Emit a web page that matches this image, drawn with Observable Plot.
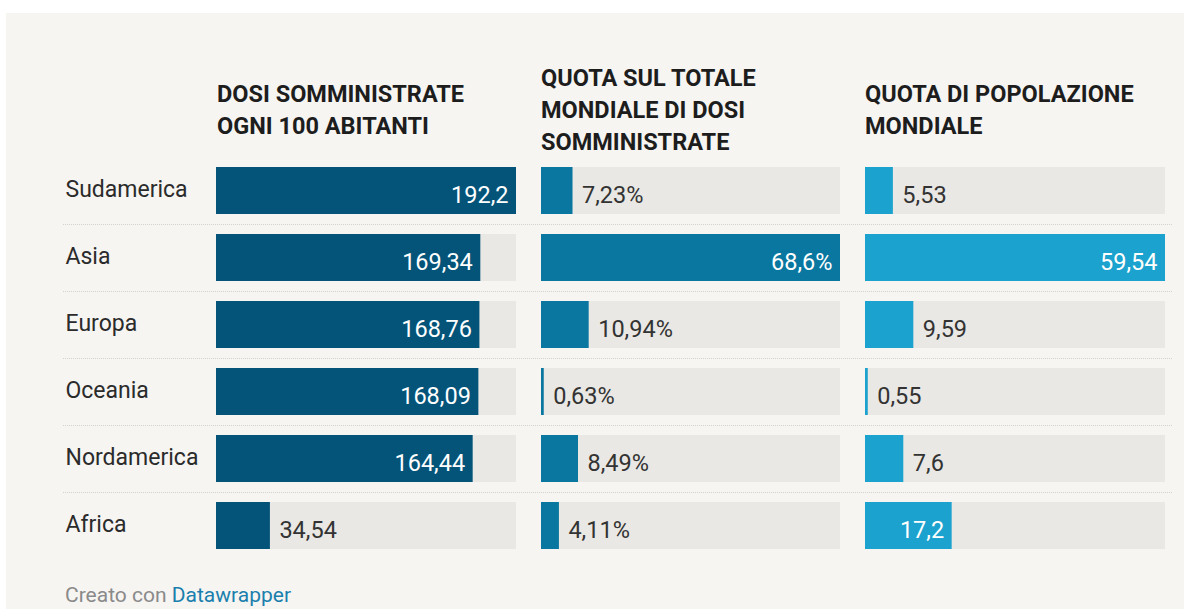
<!DOCTYPE html>
<html>
<head>
<meta charset="utf-8">
<script src="https://cdn.jsdelivr.net/npm/d3@7"></script>
<script src="https://cdn.jsdelivr.net/npm/@observablehq/plot@0.6"></script>
<style>
  html, body { margin: 0; padding: 0; background: #ffffff; width: 1184px; height: 609px; overflow: hidden; font-family: Roboto, sans-serif; }
  #panel { position: absolute; left: 6px; top: 13px; width: 1178px; height: 620px; background: #f6f5f2; }
  .hdr { position: absolute; top: 62px; height: 96px; display: flex; align-items: center; font-family: Roboto, sans-serif; font-weight: 700; font-size: 23.5px; line-height: 32px; color: #1d1d1d; width: 295px; }
  .plot { position: absolute; top: 146px; }
  .sep { position: absolute; height: 0; border-top: 1px dotted #d3d2ce; }
  #footer { position: absolute; left: 65px; top: 583px; font-size: 21px; line-height: 24px; color: #8a8a8a; }
  #footer span { color: #1b7fad; }
</style>
</head>
<body>
<div id="panel"></div>
<div id="root"></div>
<script>
// ---- data ----
const regions = ["Sudamerica", "Asia", "Europa", "Oceania", "Nordamerica", "Africa"];
const dosiPer100 = [192.2, 169.34, 168.76, 168.09, 164.44, 34.54];
const quotaDosi = [7.23, 68.6, 10.94, 0.63, 8.49, 4.11];
const quotaPop = [5.53, 59.54, 9.59, 0.55, 7.6, 17.2];
const titles = [
  "DOSI SOMMINISTRATE OGNI 100 ABITANTI",
  "QUOTA SUL TOTALE MONDIALE DI DOSI SOMMINISTRATE",
  "QUOTA DI POPOLAZIONE MONDIALE"
];
const suffixes = ["", "%", ""];
const colors = ["#04547a", "#0977a0", "#1ba2ce"];

const columns = [dosiPer100, quotaDosi, quotaPop];
const root = document.getElementById("root");

// layout of the three panels (page pixels)
const layout = [
  {left: 6, marginLeft: 210, barWidth: 300, labels: true},
  {left: 541, marginLeft: 0, barWidth: 299, labels: false},
  {left: 865, marginLeft: 0, barWidth: 300, labels: false}
];
const titleLeft = [217, 541, 865];

const fmt = (v, s) => String(v).replace(".", ",") + s;
const valueFont = 23.5;
const charW = valueFont * 0.55;

let firstPlot = null;
columns.forEach((vals, i) => {
  const L = layout[i];
  const max = d3.max(vals);
  const data = regions.map((r, j) => {
    const label = fmt(vals[j], suffixes[i]);
    const px = vals[j] / max * L.barWidth;
    return {region: r, value: vals[j], max, label, inside: px > label.length * charW + 16};
  });
  const marks = [
    Plot.barX(data, {y: "region", x: "max", fill: "#e9e8e4"}),
    Plot.barX(data, {y: "region", x: "value", fill: colors[i]}),
    Plot.text(data.filter(d => d.inside), {y: "region", x: "value", text: "label", textAnchor: "end", dx: -8, dy: 4, fill: "#ffffff", fontSize: valueFont}),
    Plot.text(data.filter(d => !d.inside), {y: "region", x: "value", text: "label", textAnchor: "start", dx: 9, dy: 4, fill: "#333333", fontSize: valueFont})
  ];
  if (L.labels) {
    marks.push(Plot.text(data, {y: "region", text: "region", frameAnchor: "left", textAnchor: "start", dx: -151, dy: -1, fill: "#2b2b2b", fontSize: 23}));
  }
  const p = Plot.plot({
    width: L.marginLeft + L.barWidth,
    height: 420,
    marginLeft: L.marginLeft,
    marginRight: 0,
    marginTop: 0,
    marginBottom: 0,
    x: {domain: [0, max], axis: null},
    y: {domain: regions, range: [10, 413], paddingInner: 0.3, paddingOuter: 0.15, axis: null},
    style: {background: "transparent", fontFamily: "Roboto, sans-serif", overflow: "visible"},
    marks
  });
  p.classList.add("plot");
  p.style.left = L.left + "px";
  p.style.top = "146px";
  p.style.position = "absolute";
  root.appendChild(p);
  if (i === 0) firstPlot = p;

  const h = document.createElement("div");
  h.className = "hdr";
  h.style.left = titleLeft[i] + "px";
  h.innerHTML = "<div>" + titles[i] + "</div>";
  root.appendChild(h);
});

// dotted row separators, placed with the y scale of the first plot
const ys = firstPlot.scale("y");
regions.slice(1).forEach(r => {
  const yPos = 146 + ys.apply(r) - (ys.step - ys.bandwidth) / 2;
  const s = document.createElement("div");
  s.className = "sep";
  s.style.left = "63px";
  s.style.width = "1109px";
  s.style.top = Math.round(yPos) + "px";
  root.appendChild(s);
});

const f = document.createElement("div");
f.id = "footer";
f.innerHTML = "Creato con <span>Datawrapper</span>";
root.appendChild(f);
</script>
</body>
</html>
